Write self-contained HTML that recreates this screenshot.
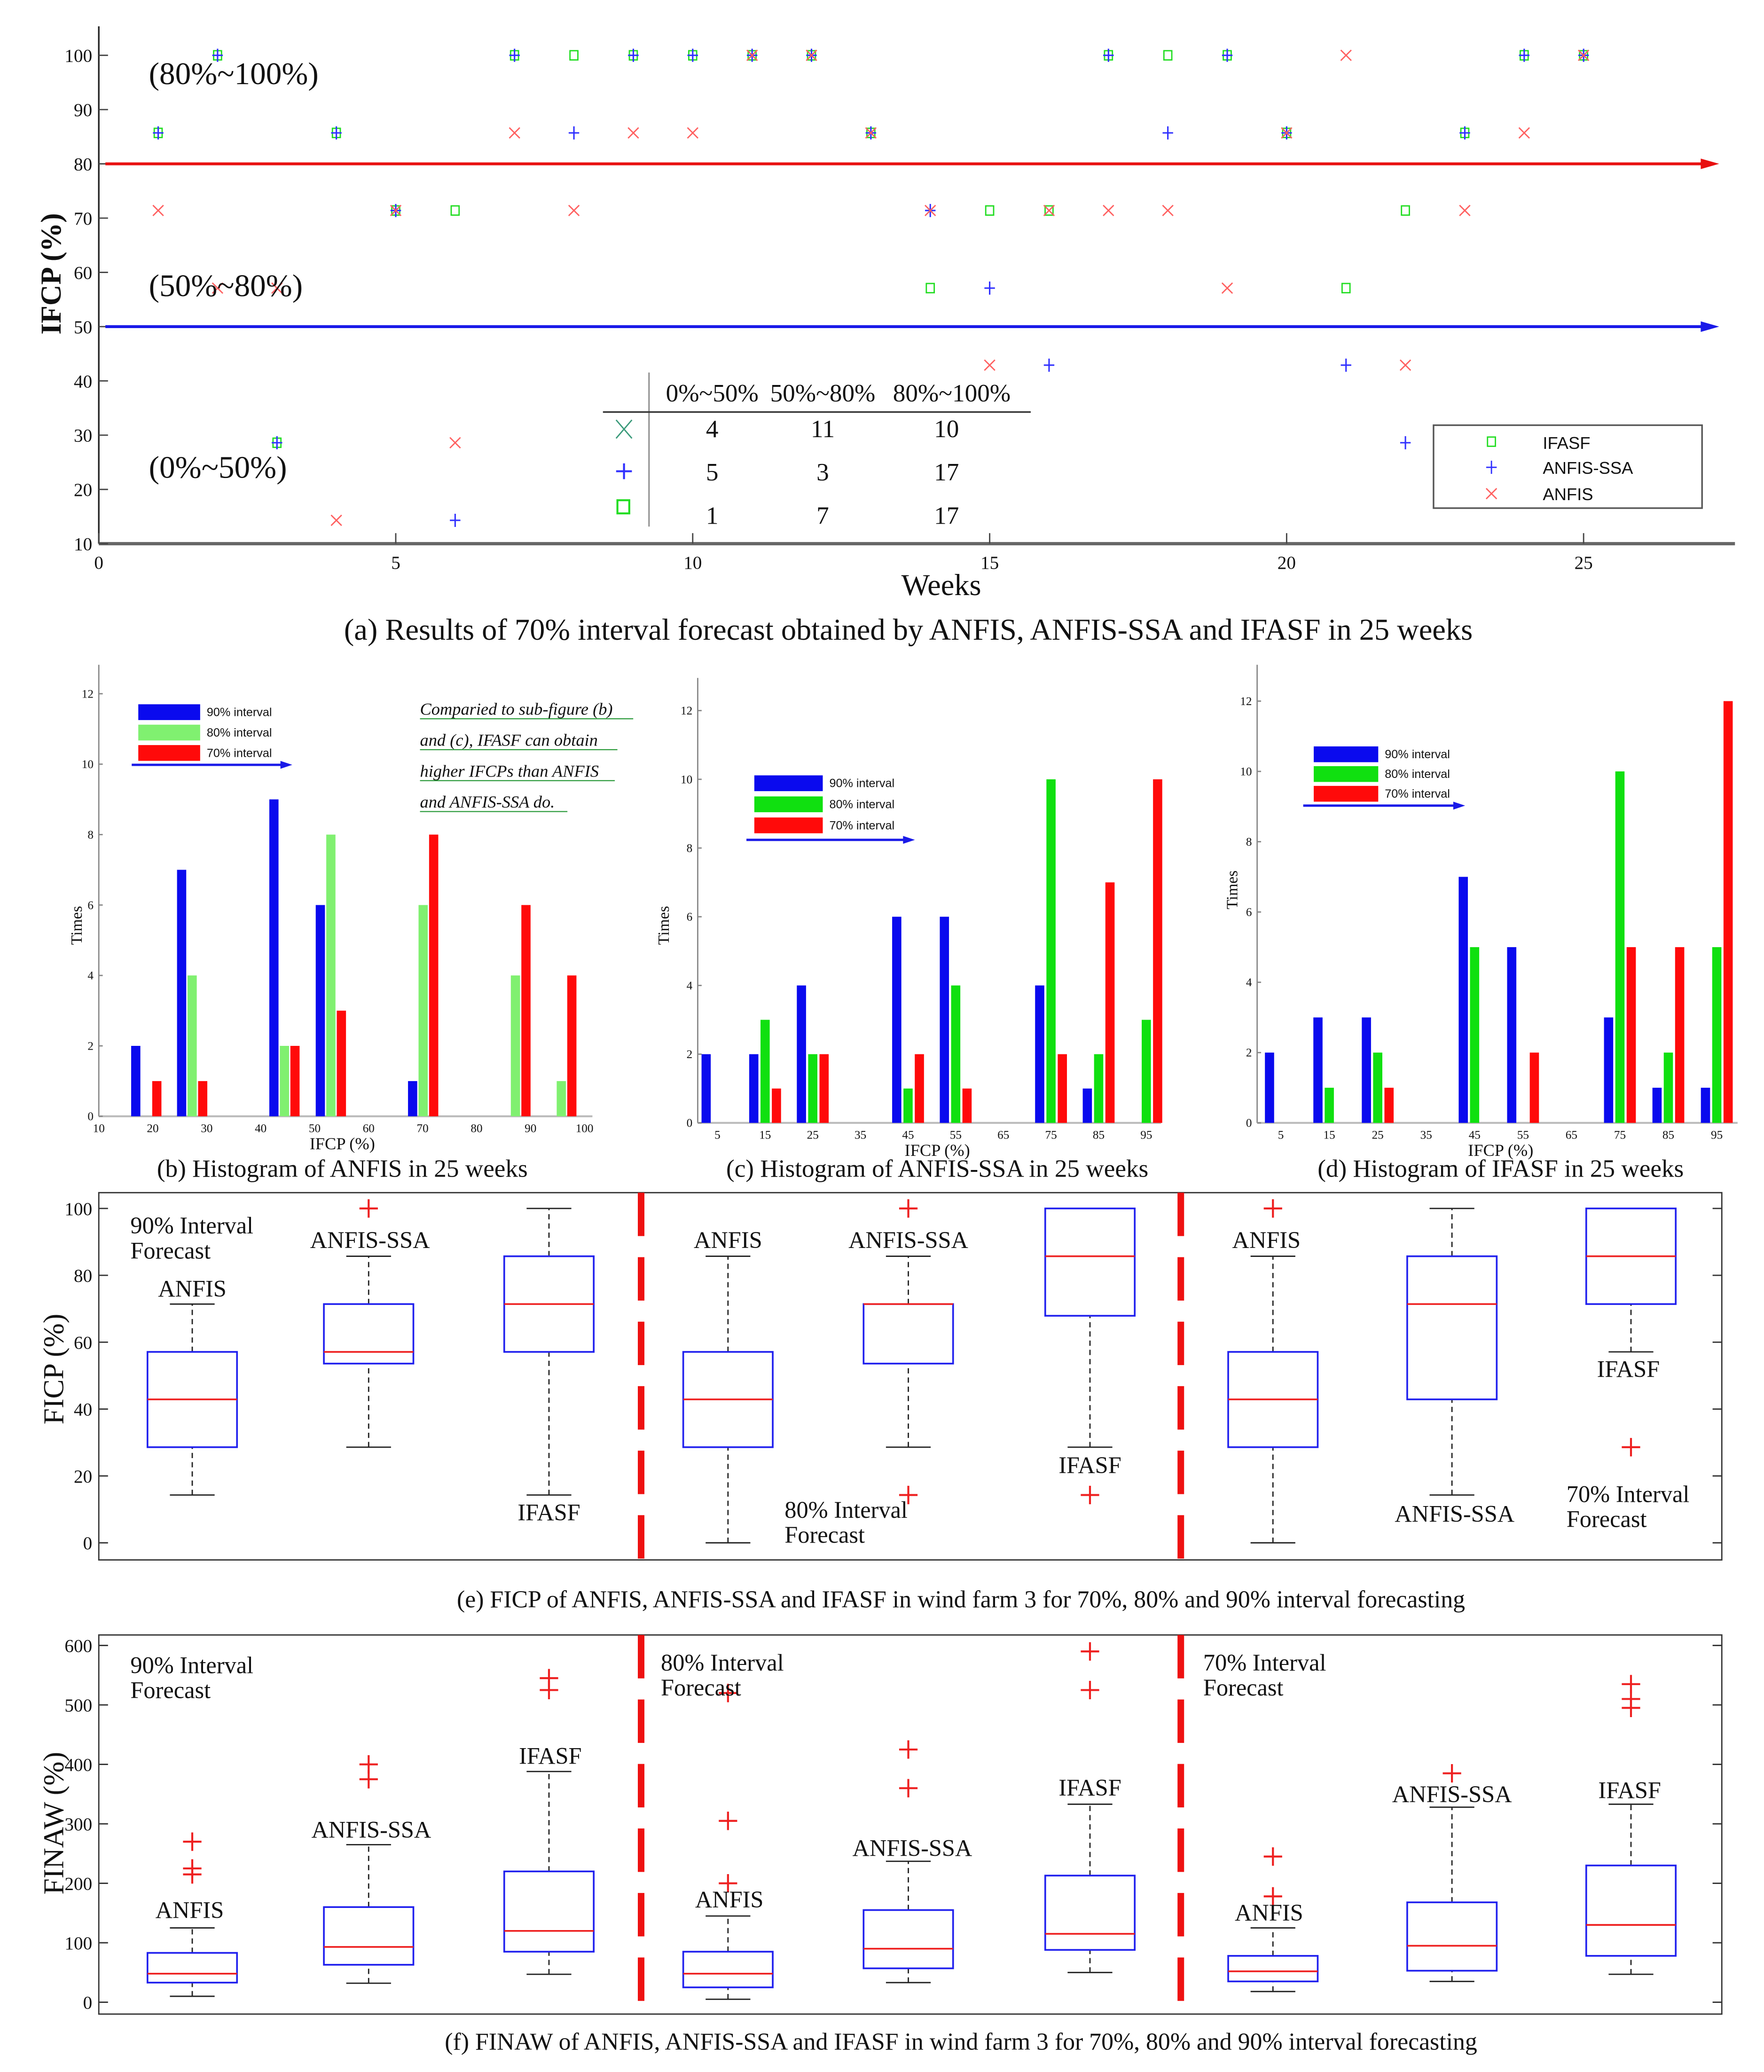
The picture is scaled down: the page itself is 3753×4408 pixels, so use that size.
<!DOCTYPE html>
<html><head><meta charset="utf-8"><style>
html,body{margin:0;padding:0;background:#fff}
svg{display:block}
text{font-family:"Liberation Serif",serif;fill:#111}
.sans{font-family:"Liberation Sans",sans-serif}
</style></head><body>
<svg id="fig" width="3753" height="4408" viewBox="0 0 1340 1574" xmlns="http://www.w3.org/2000/svg">
<g id="pa"></g>
<g id="pb"></g>
<g id="pc"></g>
<g id="pd"></g>
<g id="pe"></g>
<g id="pf"></g>
</svg>
<script>
// ---- Panel (a) data ----
const weeks = [1,2,3,4,5,6,7,8,9,10,11,12,13,14,15,16,17,18,19,20,21,22,23,24,25];
const anfisIFCP = [71.4,57.1,57.1,14.3,71.4,28.6,85.7,71.4,85.7,85.7,100,100,85.7,71.4,42.9,71.4,71.4,71.4,57.1,85.7,100,42.9,71.4,85.7,100];
const ssaIFCP = [85.7,100,28.6,85.7,71.4,14.3,100,85.7,100,100,100,100,85.7,71.4,57.1,42.9,100,85.7,100,85.7,42.9,28.6,85.7,100,100];
const ifasfIFCP = [85.7,100,28.6,85.7,71.4,71.4,100,100,100,100,100,100,85.7,57.1,71.4,71.4,100,100,100,85.7,57.1,71.4,85.7,100,100];
const aXTicks = [0,5,10,15,20,25];
const aYTicks = [10,20,30,40,50,60,70,80,90,100];
// ---- Histogram data ----
const binsB = [18.8,27.3,35.9,44.4,53.0,61.5,70.1,78.6,87.2,95.7];
const bBlue = [2,7,0,9,6,0,1,0,0,0];
const bGreen = [0,4,0,2,8,0,6,0,4,1];
const bRed = [1,1,0,2,3,0,8,0,6,4];
const bXTicks = [10,20,30,40,50,60,70,80,90,100];
const binsCD = [5,15,25,35,45,55,65,75,85,95];
const cBlue = [2,2,4,0,6,6,0,4,1,0];
const cGreen = [0,3,2,0,1,4,0,10,2,3];
const cRed = [0,1,2,0,2,1,0,2,7,10];
const dBlue = [2,3,3,0,7,5,0,3,1,1];
const dGreen = [0,1,2,0,5,0,0,10,2,5];
const dRed = [0,0,1,0,0,2,0,5,5,12];
const histYTicks = [0,2,4,6,8,10,12];
// ---- Boxplot data [min,q1,median,q3,max] ----
const eStats = [[14.3,28.6,42.9,57.1,71.4],[28.6,53.6,57.1,71.4,85.7],[14.3,57.1,71.4,85.7,100],
 [0,28.6,42.9,57.1,85.7],[28.6,53.6,71.4,71.4,85.7],[28.6,67.9,85.7,100,100],
 [0,28.6,42.9,57.1,85.7],[14.3,42.9,71.4,85.7,100],[57.1,71.4,85.7,100,100]];
const eOut = [[],[100],[],[],[100,14.3],[14.3],[100],[],[28.6]];
const eYTicks = [0,20,40,60,80,100];
const fStats = [[10,33,48,83,125],[32,63,93,160,265],[47,85,120,220,388],
 [5,25,48,85,145],[33,57,90,155,237],[50,88,115,213,333],
 [18,35,52,78,125],[35,53,95,168,328],[47,78,130,230,333]];
const fOut = [[270,225,215],[400,375],[545,525],[520,305,200],[425,360],[590,525],[245,178],[385],[535,510,495]];
const fYTicks = [0,100,200,300,400,500,600];

const NS="http://www.w3.org/2000/svg";
function mk(p,tag,at){const e=document.createElementNS(NS,tag);for(const k in at)e.setAttribute(k,at[k]);p.appendChild(e);return e;}
function tx(p,x,y,s,size,anchor,extra){const e=mk(p,'text',Object.assign({x:x,y:y,'font-size':size,'text-anchor':anchor||'start'},extra||{}));e.textContent=s;return e;}

// ===== Panel A =====
(function(){
const g=document.getElementById('pa');
const X=v=>75+v*45.12, Y=v=>413-(v-10)*4.122;
mk(g,'line',{x1:75,y1:20,x2:75,y2:413,stroke:'#222','stroke-width':1.2});
mk(g,'line',{x1:75,y1:413,x2:1318,y2:413,stroke:'#666','stroke-width':2.5});
aXTicks.forEach(t=>{mk(g,'line',{x1:X(t),y1:413,x2:X(t),y2:405,stroke:'#444'});const l=tx(g,X(t),432,t,14,'middle');

});
aYTicks.forEach(t=>{mk(g,'line',{x1:75,y1:Y(t),x2:82,y2:Y(t),stroke:'#444'});const l=tx(g,70,Y(t)+5,t,14,'end');

});
mk(g,'line',{x1:80,y1:Y(80),x2:1295,y2:Y(80),stroke:'#e81010','stroke-width':2.2});
mk(g,'polygon',{points:`1306,${Y(80)} 1292,${Y(80)-4} 1292,${Y(80)+4}`,fill:'#e81010'});
mk(g,'line',{x1:80,y1:Y(50),x2:1295,y2:Y(50),stroke:'#1a1ae8','stroke-width':2.2});
mk(g,'polygon',{points:`1306,${Y(50)} 1292,${Y(50)-4} 1292,${Y(50)+4}`,fill:'#1a1ae8'});
weeks.forEach((w,i)=>{
 let x=X(w),y=Y(ifasfIFCP[i]);
 const s=mk(g,'rect',{x:x-3,y:y-3.5,width:6,height:7,fill:'none',stroke:'#22dd22','stroke-width':1});
 
 
 y=Y(ssaIFCP[i]);
 const p=mk(g,'path',{d:`M${x-4} ${y}H${x+4}M${x} ${y-5}V${y+5}`,stroke:'#3030ff','stroke-width':1.1});
 
 
 y=Y(anfisIFCP[i]);
 const c=mk(g,'path',{d:`M${x-4} ${y-4}L${x+4} ${y+4}M${x+4} ${y-4}L${x-4} ${y+4}`,stroke:'#ff6060','stroke-width':1});
 
 
});
tx(g,113,64,'(80%~100%)',24);
tx(g,113,225,'(50%~80%)',24);
tx(g,113,363,'(0%~50%)',24);
const yl=tx(g,0,0,'IFCP (%)',22,'middle',{transform:'translate(46,208) rotate(-90)','font-weight':'bold'});

tx(g,715,452,'Weeks',23,'middle');
tx(g,690,486,'(a) Results of 70% interval forecast obtained by ANFIS, ANFIS-SSA and IFASF in 25 weeks',23,'middle');
const tb=mk(g,'g',{});
mk(tb,'line',{x1:493,y1:283,x2:493,y2:400,stroke:'#888'});
mk(tb,'line',{x1:458,y1:313,x2:783,y2:313,stroke:'#333','stroke-width':1.2});
tx(tb,541,305,'0%~50%',19,'middle');tx(tb,625,305,'50%~80%',19,'middle');tx(tb,723,305,'80%~100%',19,'middle');
const rows=[[4,11,10],[5,3,17],[1,7,17]],ry=[332,365,398];
rows.forEach((r,i)=>{[541,625,719].forEach((cx,j)=>tx(tb,cx,ry[i],r[j],19,'middle'));});
mk(tb,'path',{d:'M468 319L480 333M480 319L468 333',stroke:'#3a9a7a','stroke-width':1});
mk(tb,'path',{d:'M468 358H480M474 352V364',stroke:'#3030ff','stroke-width':1.5});
mk(tb,'rect',{x:469,y:380,width:9,height:10,fill:'none',stroke:'#22dd22','stroke-width':1.5});
const lg=mk(g,'g',{});
mk(lg,'rect',{x:1089,y:323,width:204,height:63,fill:'#fff',stroke:'#555','stroke-width':1.2});
mk(lg,'rect',{x:1130,y:332,width:6,height:7,fill:'none',stroke:'#22dd22'});
mk(lg,'path',{d:'M1129 355H1137M1133 350V360',stroke:'#3030ff'});
mk(lg,'path',{d:'M1129 371L1137 379M1137 371L1129 379',stroke:'#ff6060'});
tx(lg,1172,341,'IFASF',13,'start',{class:'sans'});
tx(lg,1172,360,'ANFIS-SSA',13,'start',{class:'sans'});
tx(lg,1172,380,'ANFIS',13,'start',{class:'sans'});
})();

// ===== Histograms =====
function hist(id,cfg){
 const g=document.getElementById(id);
 const X=cfg.X, Y=v=>cfg.y0-v*cfg.sy;
 mk(g,'line',{x1:cfg.ax,y1:cfg.top,x2:cfg.ax,y2:cfg.y0,stroke:'#888'});
 mk(g,'line',{x1:cfg.ax,y1:cfg.y0,x2:cfg.right,y2:cfg.y0,stroke:'#bbb','stroke-width':1.5});
 histYTicks.forEach(t=>{mk(g,'line',{x1:cfg.ax,y1:Y(t),x2:cfg.ax+3,y2:Y(t),stroke:'#888'});tx(g,cfg.ax-4,Y(t)+3,t,9,'end');});
 cfg.xt.forEach(t=>tx(g,X(t),cfg.y0+12,t,9,'middle'));
 const cols=['#0a0aee',cfg.green,'#ff0a0a'],names=['bar-90-interval','bar-80-interval','bar-70-interval'];
 [cfg.b,cfg.gr,cfg.r].forEach((arr,k)=>{
  arr.forEach((v,i)=>{ if(v<=0)return;
   const cx=X(cfg.bins[i])+(k-1)*cfg.off;
   const r=mk(g,'rect',{x:cx-cfg.bw/2,y:Y(v),width:cfg.bw,height:v*cfg.sy,fill:cols[k]});
   
   
  });
 });
 const L=cfg.leg;
 const lg=mk(g,'g',{});
 ['90% interval','80% interval','70% interval'].forEach((s,k)=>{
  mk(lg,'rect',{x:L.x,y:L.y+k*L.dy,width:L.w,height:L.h,fill:cols[k]});
  tx(lg,L.x+L.w+5,L.y+k*L.dy+L.h-3,s,9,'start',{class:'sans'});
 });
 mk(lg,'line',{x1:L.ax1,y1:L.ay,x2:L.ax2-8,y2:L.ay,stroke:'#1a1ae8','stroke-width':1.8});
 mk(lg,'polygon',{points:`${L.ax2},${L.ay} ${L.ax2-9},${L.ay-3} ${L.ax2-9},${L.ay+3}`,fill:'#1a1ae8'});
 tx(g,0,0,'Times',12,'middle',{transform:`translate(${cfg.tx},${cfg.ty}) rotate(-90)`});
 tx(g,cfg.cx,cfg.y0+25,'IFCP (%)',13,'middle');
 tx(g,cfg.cx,894,cfg.cap,19,'middle');
}
hist('pb',{X:v=>75+(v-10)*4.1,ax:75,top:505,y0:848,sy:26.75,right:450,xt:bXTicks,bins:binsB,b:bBlue,gr:bGreen,r:bRed,
 green:'#80f070',off:8,bw:7,leg:{x:105,y:535,dy:15.5,w:47,h:12,ax1:100,ax2:222,ay:581},tx:62,ty:703,cx:260,cap:'(b) Histogram of ANFIS in 25 weeks'});
hist('pc',{X:v=>545+(v-5)*3.62,ax:530,top:515,y0:853,sy:26.1,right:882,xt:binsCD,bins:binsCD,b:cBlue,gr:cGreen,r:cRed,
 green:'#10e010',off:8.6,bw:7,leg:{x:573,y:589,dy:16,w:52,h:12,ax1:567,ax2:695,ay:638},tx:508,ty:703,cx:712,cap:'(c) Histogram of ANFIS-SSA in 25 weeks'});
hist('pd',{X:v=>973+(v-5)*3.68,ax:955,top:505,y0:853,sy:26.7,right:1320,xt:binsCD,bins:binsCD,b:dBlue,gr:dGreen,r:dRed,
 green:'#10e010',off:8.6,bw:7,leg:{x:998,y:567,dy:15,w:49,h:12,ax1:990,ax2:1113,ay:612},tx:940,ty:676,cx:1140,cap:'(d) Histogram of IFASF in 25 weeks'});
(function(){const g=document.getElementById('pb');
 ['Comparied to sub-figure (b)','and (c), IFASF can obtain','higher IFCPs than ANFIS','and ANFIS-SSA do.'].forEach((s,i)=>{
  const y=543+i*23.5;const t=tx(g,319,y,s,13,'start',{'font-style':'italic',fill:'#2a9a3a'});
  
  
  mk(g,'line',{x1:319,y1:y+3,x2:319+[162,150,148,112][i],y2:y+3,stroke:'#2a9a3a','stroke-width':0.8});
 });})();

// ===== Boxplots =====
const centers=[146,280,417,553,690,828,967,1103,1239];
function box(id,cfg){
 const g=document.getElementById(id);
 const Y=v=>cfg.y0-v*cfg.sy;
 mk(g,'rect',{x:75,y:cfg.top,width:1233,height:cfg.bot-cfg.top,fill:'none',stroke:'#333','stroke-width':1});
 cfg.ticks.forEach(t=>{mk(g,'line',{x1:75,y1:Y(t),x2:82,y2:Y(t),stroke:'#333'});mk(g,'line',{x1:1301,y1:Y(t),x2:1308,y2:Y(t),stroke:'#333'});tx(g,70,Y(t)+5,t,14,'end');});
 [487,897].forEach(x=>mk(g,'line',{x1:x,y1:cfg.top,x2:x,y2:cfg.bot,stroke:'#ee1111','stroke-width':5,'stroke-dasharray':'33 16'}));
 cfg.stats.forEach((s,i)=>{
  const c=centers[i];const bg=mk(g,'g',{});
  
  
  mk(bg,'line',{x1:c,y1:Y(s[0]),x2:c,y2:Y(s[1]),stroke:'#222','stroke-dasharray':'4 3'});
  mk(bg,'line',{x1:c,y1:Y(s[3]),x2:c,y2:Y(s[4]),stroke:'#222','stroke-dasharray':'4 3'});
  mk(bg,'line',{x1:c-17,y1:Y(s[0]),x2:c+17,y2:Y(s[0]),stroke:'#222'});
  mk(bg,'line',{x1:c-17,y1:Y(s[4]),x2:c+17,y2:Y(s[4]),stroke:'#222'});
  mk(bg,'rect',{x:c-34,y:Y(s[3]),width:68,height:Y(s[1])-Y(s[3]),fill:'none',stroke:'#2020ee','stroke-width':1.3});
  mk(bg,'line',{x1:c-34,y1:Y(s[2]),x2:c+34,y2:Y(s[2]),stroke:'#ee2020','stroke-width':1.3});
  cfg.out[i].forEach(o=>mk(bg,'path',{d:`M${c-7} ${Y(o)}H${c+7}M${c} ${Y(o)-7}V${Y(o)+7}`,stroke:'#ee2020','stroke-width':1.5}));
 });
 cfg.labels.forEach(l=>{const t=tx(g,l[1],l[2],l[0],18,l[3]||'middle');
  
  });
 tx(g,0,0,cfg.yt,22,'middle',{transform:`translate(48,${cfg.tyy}) rotate(-90)`});
 tx(g,730,cfg.capy,cfg.cap,18.5,'middle');
}
box('pe',{y0:1172,sy:2.54,top:906,bot:1185,ticks:eYTicks,stats:eStats,out:eOut,yt:'FICP (%)',tyy:1040,capy:1221,
 cap:'(e) FICP of ANFIS, ANFIS-SSA and IFASF in wind farm 3 for 70%, 80% and 90% interval forecasting',
 labels:[['90% Interval',99,937,'start'],['Forecast',99,956,'start'],['ANFIS',146,985],['ANFIS-SSA',281,948],['IFASF',417,1155],
 ['ANFIS',553,948],['ANFIS-SSA',690,948],['IFASF',828,1119],['80% Interval',596,1153,'start'],['Forecast',596,1172,'start'],
 ['ANFIS',962,948],['ANFIS-SSA',1105,1156],['IFASF',1237,1046],['70% Interval',1190,1141,'start'],['Forecast',1190,1160,'start']]});
box('pf',{y0:1521,sy:0.4517,top:1242,bot:1530,ticks:fYTicks,stats:fStats,out:fOut,yt:'FINAW (%)',tyy:1385,capy:1557,
 cap:'(f) FINAW of ANFIS, ANFIS-SSA and IFASF in wind farm 3 for 70%, 80% and 90% interval forecasting',
 labels:[['90% Interval',99,1271,'start'],['Forecast',99,1290,'start'],['ANFIS',144,1457],['ANFIS-SSA',282,1396],['IFASF',418,1340],
 ['80% Interval',502,1269,'start'],['Forecast',502,1288,'start'],['ANFIS',554,1449],['ANFIS-SSA',693,1410],['IFASF',828,1364],
 ['70% Interval',914,1269,'start'],['Forecast',914,1288,'start'],['ANFIS',964,1459],['ANFIS-SSA',1103,1369],['IFASF',1238,1366]]});
</script>
</body></html>
